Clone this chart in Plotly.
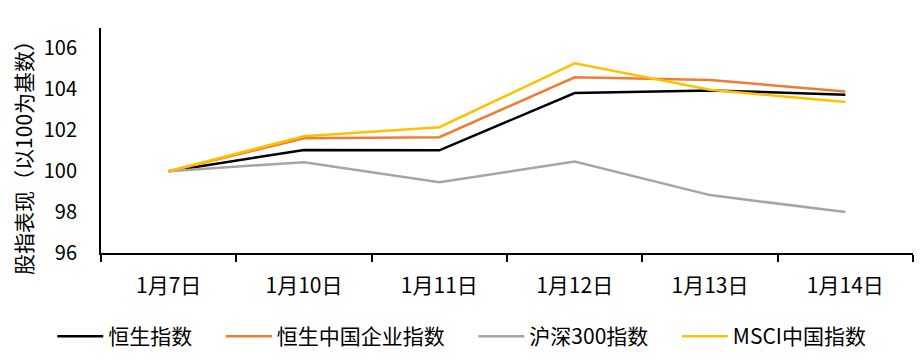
import plotly.graph_objects as go

dates = ["1月7日", "1月10日", "1月11日", "1月12日", "1月13日", "1月14日"]
hsi = [100.0, 101.04, 101.02, 103.82, 103.95, 103.74]
hscei = [100.0, 101.61, 101.66, 104.59, 104.46, 103.89]
csi300 = [100.0, 100.44, 99.46, 100.47, 98.83, 98.0]
msci = [100.0, 101.71, 102.15, 105.27, 103.98, 103.38]

series_names = ["恒生指数", "恒生中国企业指数", "沪深300指数", "MSCI中国指数"]
series_vals = [hsi, hscei, csi300, msci]
colors = ["#000000", "#ED7D31", "#A5A5A5", "#FFC000"]

FONT = "Noto Sans CJK SC"
PAD = "\u00a0" * 5

fig = go.Figure()
for i, (name, vals, c) in enumerate(zip(series_names, series_vals, colors)):
    label = name + (PAD if i < len(series_names) - 1 else "")
    fig.add_trace(go.Scatter(x=dates, y=vals, name=label, mode="lines",
                             line=dict(color=c, width=2.5)))

fig.update_layout(
    width=906, height=346,
    margin=dict(l=93, r=1, t=20, b=101, autoexpand=False),
    paper_bgcolor="white", plot_bgcolor="white",
    font=dict(family=FONT, size=21, color="#000000"),
    showlegend=True,
    legend=dict(orientation="h", x=-0.06, xanchor="left", xref="paper",
                y=-0.28, yanchor="top", font=dict(size=21), itemwidth=46,
                tracegroupgap=0),
)
fig.update_xaxes(type="category", range=[-0.5, 5.5], showline=True,
                 linecolor="black", linewidth=2, ticks="outside",
                 tickson="boundaries", ticklen=7, tickwidth=2, tickcolor="black",
                 showgrid=False, zeroline=False, ticklabelstandoff=13,
                 tickangle=0, automargin=False,
                 tickfont=dict(size=21))
fig.update_yaxes(range=[96, 107], tickvals=[96, 98, 100, 102, 104, 106],
                 showline=True, linecolor="black", linewidth=2,
                 showgrid=False, zeroline=False, ticks="", automargin=False,
                 ticklabelstandoff=18, tickfont=dict(size=20))
fig.add_annotation(text="股指表现（以100为基数）", xref="paper", yref="paper",
                   x=-0.096, y=0.445, textangle=-90, showarrow=False,
                   xanchor="center", yanchor="middle", font=dict(size=21))

fig.write_html("out.html")
